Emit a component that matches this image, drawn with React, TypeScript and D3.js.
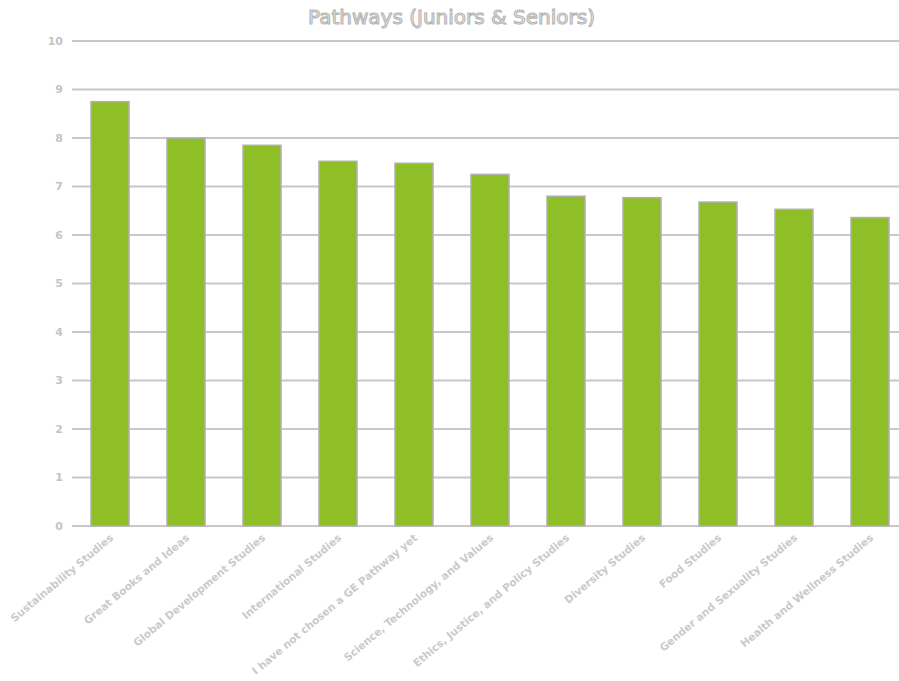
import * as d3 from "d3";
import { useEffect, useRef } from "react";

const categories = [
  "Sustainability Studies",
  "Great Books and Ideas",
  "Global Development Studies",
  "International Studies",
  "I have not chosen a GE Pathway yet",
  "Science, Technology, and Values",
  "Ethics, Justice, and Policy Studies",
  "Diversity Studies",
  "Food Studies",
  "Gender and Sexuality Studies",
  "Health and Wellness Studies",
];
const values = [8.75, 8.0, 7.85, 7.52, 7.48, 7.25, 6.8, 6.77, 6.68, 6.53, 6.36];
const yTicks = [0, 1, 2, 3, 4, 5, 6, 7, 8, 9, 10];

const W = 899;
const H = 681;
const margin = { top: 41, left: 72, bottom: 155 };

export default function App() {
  const ref = useRef<SVGSVGElement>(null);

  useEffect(() => {
    const svg = d3.select(ref.current);
    svg.selectAll("*").remove();

    const x = d3.scaleBand().domain(categories).range([margin.left, margin.left + 76 * 11]).paddingInner(0.5).paddingOuter(0.25);
    const y = d3.scaleLinear().domain([0, 10]).range([H - margin.bottom, margin.top]);

    // grid
    svg.selectAll("line.grid").data(yTicks).enter().append("line")
      .attr("class", "grid")
      .attr("x1", margin.left).attr("x2", W)
      .attr("y1", d => y(d)).attr("y2", d => y(d))
      .attr("stroke", "#c8c8c8").attr("stroke-width", 2);

    // y labels
    svg.selectAll("text.ytick").data(yTicks).enter().append("text")
      .attr("class", "ytick")
      .attr("x", 63).attr("y", d => y(d)).attr("dy", "0.35em")
      .attr("text-anchor", "end")
      .style("font", "bold 11px 'DejaVu Sans', sans-serif")
      .style("fill", "#c4c4c4")
      .text(d => d);

    // bars
    svg.selectAll("rect.bar").data(values).enter().append("rect")
      .attr("class", "bar")
      .attr("x", (d, i) => x(categories[i])!)
      .attr("width", x.bandwidth())
      .attr("y", d => y(d))
      .attr("height", d => y(0) - y(d))
      .attr("fill", "#8fbf26")
      .attr("stroke", "#b0b0b0").attr("stroke-width", 1.5);

    // x labels
    svg.selectAll("text.xlab").data(categories).enter().append("text")
      .attr("class", "xlab")
      .attr("transform", d => "translate(" + (x(d)! + x.bandwidth() / 2 + 4) + "," + (y(0) + 13) + ")rotate(-40)")
      .attr("text-anchor", "end")
      .style("font", "bold 10.5px 'DejaVu Sans', sans-serif")
      .style("fill", "#cacaca")
      .text(d => d);

    // title
    svg.append("text")
      .attr("x", W / 2 + 2).attr("y", 24)
      .attr("text-anchor", "middle")
      .style("font", "20px 'DejaVu Sans', sans-serif")
      .style("fill", "#f4f4f4")
      .style("stroke", "#b4b4b4").style("stroke-width", 1.1)
      .text("Pathways (Juniors & Seniors)");
  }, []);

  return (
    <svg ref={ref} width={W} height={H} style={{ position: "absolute", left: 0, top: 0, background: "#fff" }} />
  );
}
